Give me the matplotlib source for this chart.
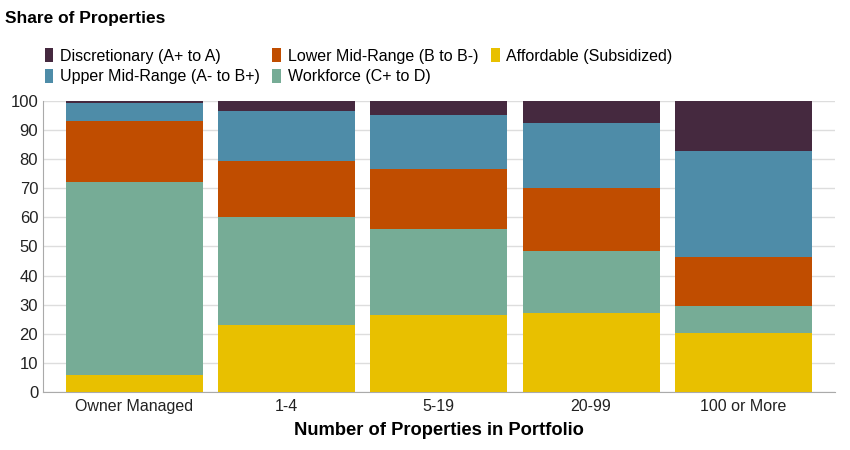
import matplotlib
matplotlib.use("Agg")
import matplotlib.pyplot as plt
import numpy as np

plt.rcParams['font.family'] = ['Liberation Sans', 'DejaVu Sans']

categories = ["Owner Managed", "1-4", "5-19", "20-99", "100 or More"]
affordable = [5.8, 23.0, 26.5, 27.1, 20.3]
workforce = [66.4, 37.1, 29.5, 21.4, 9.3]
lower_mid = [20.9, 19.3, 20.6, 21.6, 16.8]
upper_mid = [6.2, 17.2, 18.6, 22.3, 36.4]
discretionary = [0.7, 3.4, 4.8, 7.6, 17.2]

series = [
    ("Affordable (Subsidized)", affordable, "#e8c000"),
    ("Workforce (C+ to D)", workforce, "#76ac96"),
    ("Lower Mid-Range (B to B-)", lower_mid, "#c04d00"),
    ("Upper Mid-Range (A- to B+)", upper_mid, "#4e8ca8"),
    ("Discretionary (A+ to A)", discretionary, "#45293f"),
]

fig = plt.figure(figsize=(8.5, 4.5), dpi=100)
ax = fig.add_axes([0.0506, 0.1289, 0.9314, 0.6467])

x = np.arange(len(categories))
bottom = np.zeros(len(categories))
handles = {}
for name, vals, color in series:
    h = ax.bar(x, vals, width=0.9, bottom=bottom, color=color, label=name, zorder=3)
    handles[name] = h
    bottom += np.array(vals)

ax.set_xlim(-0.6, 4.6)
ax.set_ylim(0, 100)
ax.set_yticks(range(0, 101, 10))
ax.set_xticks(x)
ax.set_xticklabels(categories)
ax.tick_params(axis='both', length=0, labelsize=11.5, colors='#222222')
ax.tick_params(axis='y', labelsize=12)
ax.tick_params(axis='x', pad=5)
ax.grid(axis='y', color='#dddddd', linewidth=1, zorder=0)
for s in ['top', 'right']:
    ax.spines[s].set_visible(False)
ax.spines['left'].set_color('#aaaaaa')
ax.spines['bottom'].set_color('#aaaaaa')
ax.set_xlabel("Number of Properties in Portfolio", fontsize=13.2, fontweight='bold', labelpad=6)

fig.text(0.006, 0.96, "Share of Properties", fontsize=12.5, fontweight='bold', va='center', ha='left')

order = ["Discretionary (A+ to A)", "Upper Mid-Range (A- to B+)",
         "Lower Mid-Range (B to B-)", "Workforce (C+ to D)",
         "Affordable (Subsidized)"]
fig.legend([handles[n] for n in order], order, ncol=3, loc='upper left',
           bbox_to_anchor=(0.0525, 0.893), frameon=False, fontsize=11.5,
           handlelength=0.55, handleheight=1.0, handletextpad=0.4,
           columnspacing=0.8, labelspacing=0.3, borderaxespad=0, borderpad=0)

fig.savefig("out.png", dpi=100)
